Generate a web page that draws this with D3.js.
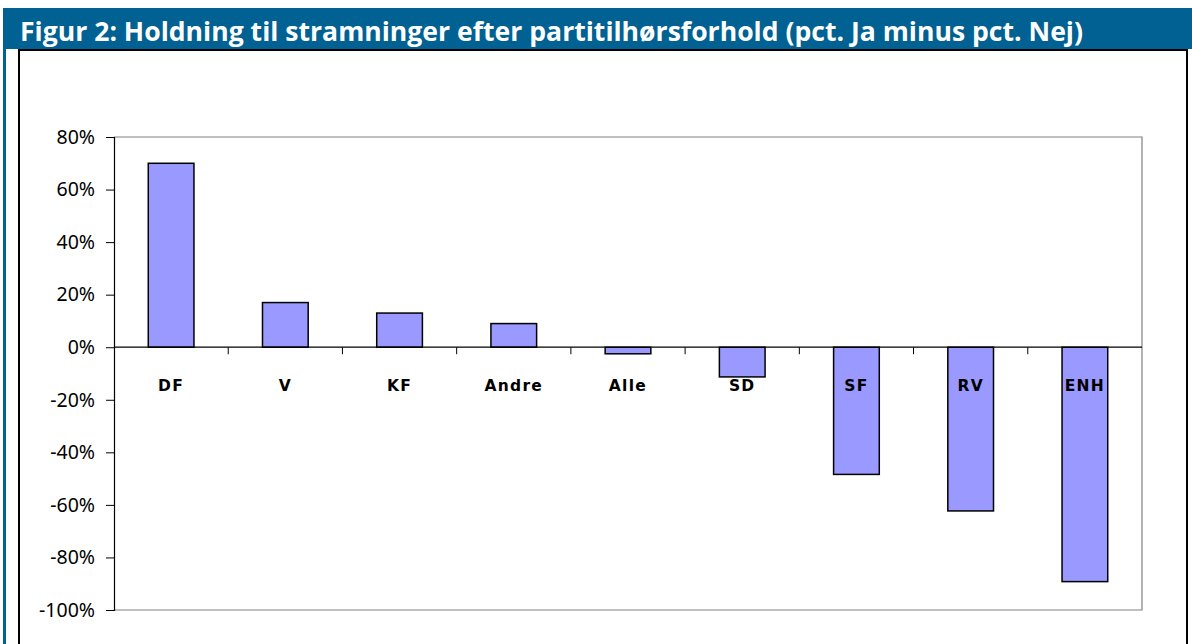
<!DOCTYPE html>
<html>
<head>
<meta charset="utf-8">
<script src="https://cdn.jsdelivr.net/npm/d3@7"></script>
<style>
  body { margin: 0; background: #fff; }
  svg { display: block; }
</style>
</head>
<body>
<svg width="1192" height="644"></svg>
<script>
// parties, share answering Ja minus share answering Nej (pct.)
var parties = ["DF", "V", "KF", "Andre", "Alle", "SD", "SF", "RV", "ENH"];
var netValues = [70, 17, 13, 9, -2.5, -11.3, -48.4, -62.3, -89.2];
var yTicks = [80, 60, 40, 20, 0, -20, -40, -60, -80, -100];
var title = "Figur 2: Holdning til stramninger efter partitilhørsforhold (pct. Ja minus pct. Nej)";

var svg = d3.select("svg"),
    width = +svg.attr("width"),
    height = +svg.attr("height");

var data = parties.map(function(p, i) { return { party: p, value: netValues[i] }; });

// title bar + frame
svg.append("rect")
    .attr("x", 3).attr("y", 8)
    .attr("width", width - 3).attr("height", 41)
    .attr("fill", "#006192");

svg.append("text")
    .attr("x", 20).attr("y", 41)
    .attr("fill", "#fff")
    .attr("font-family", "'Open Sans', sans-serif")
    .attr("font-weight", "bold")
    .attr("font-size", 27)
    .attr("textLength", 1063)
    .attr("lengthAdjust", "spacingAndGlyphs")
    .text(title);

svg.append("rect")
    .attr("x", 3).attr("y", 49)
    .attr("width", 3).attr("height", height - 49)
    .attr("fill", "#006192");

svg.append("path")
    .attr("d", "M19," + (height + 5) + "V50H1187V" + (height + 5))
    .attr("fill", "none")
    .attr("stroke", "#000")
    .attr("stroke-width", 2);

var margin = { left: 114, top: 137, right: 1142, bottom: 610 };

var x = d3.scaleBand()
    .domain(parties)
    .range([margin.left, margin.right])
    .paddingInner(0.6)
    .paddingOuter(0.3);

var y = d3.scaleLinear()
    .domain([-100, 80])
    .range([margin.bottom, margin.top]);

// plot area border
svg.append("path")
    .attr("d", "M" + margin.left + "," + margin.top + "H" + margin.right + "V" + margin.bottom + "H" + margin.left)
    .attr("fill", "none")
    .attr("stroke", "#808080")
    .attr("stroke-width", 1.2);

// y axis
var yAxis = svg.append("g")
    .attr("transform", "translate(" + margin.left + ",0)")
    .call(d3.axisLeft(y)
        .tickValues(yTicks)
        .tickSize(8)
        .tickPadding(11)
        .tickFormat(function(d) { return d + "%"; }));

yAxis.select(".domain").attr("stroke", "#000").attr("stroke-width", 1.2);
yAxis.selectAll(".tick line").attr("stroke", "#000");
yAxis.selectAll("text")
    .attr("font-family", "'Noto Sans', sans-serif")
    .attr("font-size", 19.5)
    .attr("fill", "#000");

// bars
svg.append("g")
    .selectAll("rect")
    .data(data)
    .enter().append("rect")
      .attr("x", function(d) { return x(d.party); })
      .attr("y", function(d) { return y(Math.max(0, d.value)); })
      .attr("width", x.bandwidth())
      .attr("height", function(d) { return Math.abs(y(d.value) - y(0)); })
      .attr("fill", "#9999ff")
      .attr("stroke", "#000")
      .attr("stroke-width", 1.5);

// zero axis with category ticks between bars
var step = x.step();
var boundaries = parties.slice(1).map(function(p) { return x(p) - step * 0.3; });

svg.append("line")
    .attr("x1", margin.left).attr("x2", margin.right)
    .attr("y1", y(0)).attr("y2", y(0))
    .attr("stroke", "#000")
    .attr("stroke-width", 1.2);

svg.append("g")
    .selectAll("line")
    .data(boundaries)
    .enter().append("line")
      .attr("x1", function(d) { return d; })
      .attr("x2", function(d) { return d; })
      .attr("y1", y(0))
      .attr("y2", y(0) + 7)
      .attr("stroke", "#000");

// category labels
svg.append("g")
    .selectAll("text")
    .data(parties)
    .enter().append("text")
      .attr("x", function(d) { return x(d) + x.bandwidth() / 2; })
      .attr("y", y(0) + 44)
      .attr("text-anchor", "middle")
      .attr("font-family", "'DejaVu Sans', sans-serif")
      .attr("font-weight", "bold")
      .attr("font-size", 15.5)
      .attr("letter-spacing", 1.3)
      .text(function(d) { return d; });
</script>
</body>
</html>
